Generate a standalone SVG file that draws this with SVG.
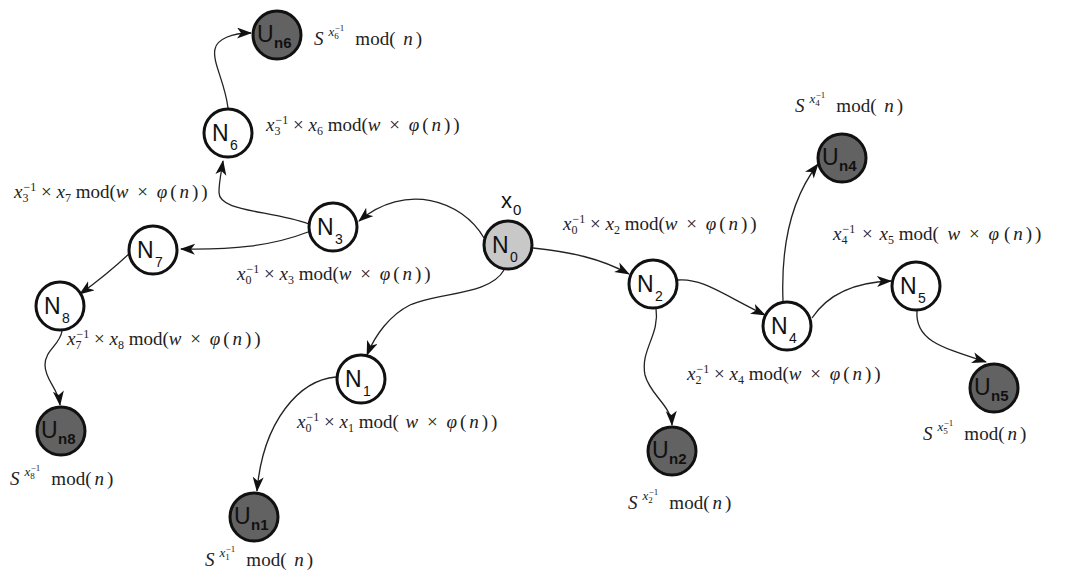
<svg xmlns="http://www.w3.org/2000/svg" width="1070" height="577" viewBox="0 0 1070 577">
<style>
.bg{fill:#fff}
.n circle{stroke:#111;stroke-width:3;fill:#fff}
.n.u circle{fill:#626262}
.n.root circle{fill:#c8c8c8}
.nl{font-family:"Liberation Sans",Arial,sans-serif;fill:#111}
.big{font-size:23px}
.sm{font-size:14px}
.usub{font-size:15px;font-weight:bold}
.m{font-family:"Liberation Serif","Times New Roman",serif;font-size:19px;fill:#222}
.i{font-style:italic}
.s{font-size:12px}
.sx{font-size:13px}
.ss{font-size:9px}
.c path{fill:none;stroke:#222;stroke-width:1.3;marker-end:url(#ah)}
</style>
<defs>
<marker id="ah" markerUnits="userSpaceOnUse" markerWidth="16" markerHeight="12" refX="14" refY="5.5" orient="auto">
<path d="M0,0 L15,5.5 L0,11 L4,5.5 z" fill="#111"/>
</marker>
</defs>
<rect class="bg" x="0" y="0" width="1070" height="577"/>

<g id="connectors" class="c">
<path d="M484,238 C462,200 405,182 359,221"/>
<path d="M308,232 C272,246 232,250 181,249"/>
<path d="M309,224 C270,210 218,212 219,192 C219,182 221,174 223,161"/>
<path d="M228,108 C225,82 212,62 215,49 C217,39 232,33 251,33"/>
<path d="M131,252 C112,270 98,281 80,294"/>
<path d="M62,331 C60,345 45,350 45,365 C45,380 58,388 60,405"/>
<path d="M504,270 C490,295 440,292 410,305 C390,315 375,335 367,355"/>
<path d="M336,377 C300,380 263,420 257,491"/>
<path d="M533,248 C570,252 600,258 629,274"/>
<path d="M678,280 C702,278 722,294 765,315"/>
<path d="M783,301 C781,250 790,200 818,164"/>
<path d="M812,318 C830,291 860,282 891,281"/>
<path d="M917,311 C915,340 940,347 986,362"/>
<path d="M656,308 C660,335 640,350 645,375 C650,395 671,405 672,425"/>
</g>

<g id="U_n6" class="n u"><circle cx="277" cy="35" r="24"/><text class="nl big" x="257" y="42">U</text><text class="nl usub" x="274" y="48">n6</text></g>
<g id="N6" class="n"><circle cx="228" cy="133" r="24"/><text class="nl big" x="212" y="141">N</text><text class="nl sm" x="230" y="150">6</text></g>
<g id="N3" class="n"><circle cx="333" cy="227" r="24"/><text class="nl big" x="317" y="235">N</text><text class="nl sm" x="335" y="244">3</text></g>
<g id="N7" class="n"><circle cx="153" cy="250" r="24"/><text class="nl big" x="137" y="258">N</text><text class="nl sm" x="155" y="267">7</text></g>
<g id="N8" class="n"><circle cx="60" cy="306" r="24"/><text class="nl big" x="44" y="314">N</text><text class="nl sm" x="62" y="323">8</text></g>
<g id="U_n8" class="n u"><circle cx="61" cy="431" r="24"/><text class="nl big" x="41" y="438">U</text><text class="nl usub" x="58" y="444">n8</text></g>
<g id="N0" class="n root"><circle cx="508" cy="245" r="24"/><text class="nl big" x="492" y="253">N</text><text class="nl sm" x="510" y="262">0</text></g>
<g id="x0label"><text class="nl" x="501" y="208" font-size="22">x</text><text class="nl" x="513" y="215" font-size="15">0</text></g>
<g id="N1" class="n"><circle cx="361" cy="379" r="24"/><text class="nl big" x="345" y="387">N</text><text class="nl sm" x="363" y="396">1</text></g>
<g id="U_n1" class="n u"><circle cx="254" cy="517" r="24"/><text class="nl big" x="234" y="524">U</text><text class="nl usub" x="251" y="530">n1</text></g>
<g id="N2" class="n"><circle cx="653" cy="284" r="24"/><text class="nl big" x="637" y="292">N</text><text class="nl sm" x="655" y="301">2</text></g>
<g id="U_n2" class="n u"><circle cx="672" cy="451" r="24"/><text class="nl big" x="652" y="458">U</text><text class="nl usub" x="669" y="464">n2</text></g>
<g id="N4" class="n"><circle cx="787" cy="326" r="24"/><text class="nl big" x="771" y="334">N</text><text class="nl sm" x="789" y="343">4</text></g>
<g id="U_n4" class="n u"><circle cx="842" cy="158" r="24"/><text class="nl big" x="822" y="165">U</text><text class="nl usub" x="839" y="171">n4</text></g>
<g id="N5" class="n"><circle cx="916" cy="286" r="24"/><text class="nl big" x="900" y="294">N</text><text class="nl sm" x="918" y="303">5</text></g>
<g id="U_n5" class="n u"><circle cx="994" cy="388" r="24"/><text class="nl big" x="974" y="395">U</text><text class="nl usub" x="991" y="401">n5</text></g>

<g id="labels">
<text class="m" x="314" y="45"><tspan class="i">S</tspan><tspan class="sx i" dx="5" dy="-9">x</tspan><tspan class="ss" dy="3">6</tspan><tspan class="ss" dx="-4" dy="-8">−1</tspan><tspan dx="11" dy="14">mod( </tspan><tspan class="i" dx="3">n</tspan><tspan dx="3">)</tspan></text>
<text class="m" x="266" y="131"><tspan class="i">x</tspan><tspan class="s" dy="4">3</tspan><tspan class="s" dx="-5" dy="-11">−1</tspan><tspan dy="7"> × </tspan><tspan class="i">x</tspan><tspan class="s" dy="4">6</tspan><tspan dy="-4"> mod(</tspan><tspan class="i">w</tspan><tspan dx="4"> × </tspan><tspan class="i" dx="4">φ</tspan><tspan dx="3">(</tspan><tspan class="i" dx="3">n</tspan><tspan dx="3">)</tspan><tspan dx="3">)</tspan></text>
<text class="m" x="14" y="198"><tspan class="i">x</tspan><tspan class="s" dy="4">3</tspan><tspan class="s" dx="-5" dy="-11">−1</tspan><tspan dy="7"> × </tspan><tspan class="i">x</tspan><tspan class="s" dy="4">7</tspan><tspan dy="-4"> mod(</tspan><tspan class="i">w</tspan><tspan dx="4"> × </tspan><tspan class="i" dx="4">φ</tspan><tspan dx="3">(</tspan><tspan class="i" dx="3">n</tspan><tspan dx="3">)</tspan><tspan dx="3">)</tspan></text>
<text class="m" x="237" y="280"><tspan class="i">x</tspan><tspan class="s" dy="4">0</tspan><tspan class="s" dx="-5" dy="-11">−1</tspan><tspan dy="7"> × </tspan><tspan class="i">x</tspan><tspan class="s" dy="4">3</tspan><tspan dy="-4"> mod(</tspan><tspan class="i">w</tspan><tspan dx="4"> × </tspan><tspan class="i" dx="4">φ</tspan><tspan dx="3">(</tspan><tspan class="i" dx="3">n</tspan><tspan dx="3">)</tspan><tspan dx="3">)</tspan></text>
<text class="m" x="67" y="345"><tspan class="i">x</tspan><tspan class="s" dy="4">7</tspan><tspan class="s" dx="-5" dy="-11">−1</tspan><tspan dy="7"> × </tspan><tspan class="i">x</tspan><tspan class="s" dy="4">8</tspan><tspan dy="-4"> mod(</tspan><tspan class="i">w</tspan><tspan dx="4"> × </tspan><tspan class="i" dx="4">φ</tspan><tspan dx="3">(</tspan><tspan class="i" dx="3">n</tspan><tspan dx="3">)</tspan><tspan dx="3">)</tspan></text>
<text class="m" x="10" y="485"><tspan class="i">S</tspan><tspan class="sx i" dx="5" dy="-9">x</tspan><tspan class="ss" dy="3">8</tspan><tspan class="ss" dx="-4" dy="-8">−1</tspan><tspan dx="11" dy="14">mod(</tspan><tspan class="i" dx="3">n</tspan><tspan dx="3">)</tspan></text>
<text class="m" x="297" y="428"><tspan class="i">x</tspan><tspan class="s" dy="4">0</tspan><tspan class="s" dx="-5" dy="-11">−1</tspan><tspan dy="7"> × </tspan><tspan class="i">x</tspan><tspan class="s" dy="4">1</tspan><tspan dy="-4"> mod( </tspan><tspan class="i" dx="2">w</tspan><tspan dx="4"> × </tspan><tspan class="i" dx="4">φ</tspan><tspan dx="3">(</tspan><tspan class="i" dx="3">n</tspan><tspan dx="3">)</tspan><tspan dx="3">)</tspan></text>
<text class="m" x="205" y="566"><tspan class="i">S</tspan><tspan class="sx i" dx="5" dy="-9">x</tspan><tspan class="ss" dy="3">1</tspan><tspan class="ss" dx="-4" dy="-8">−1</tspan><tspan dx="11" dy="14">mod( </tspan><tspan class="i" dx="3">n</tspan><tspan dx="3">)</tspan></text>
<text class="m" x="563" y="230"><tspan class="i">x</tspan><tspan class="s" dy="4">0</tspan><tspan class="s" dx="-5" dy="-11">−1</tspan><tspan dy="7"> × </tspan><tspan class="i">x</tspan><tspan class="s" dy="4">2</tspan><tspan dy="-4"> mod(</tspan><tspan class="i">w</tspan><tspan dx="4"> × </tspan><tspan class="i" dx="4">φ</tspan><tspan dx="3">(</tspan><tspan class="i" dx="3">n</tspan><tspan dx="3">)</tspan><tspan dx="3">)</tspan></text>
<text class="m" x="795" y="112"><tspan class="i">S</tspan><tspan class="sx i" dx="5" dy="-9">x</tspan><tspan class="ss" dy="3">4</tspan><tspan class="ss" dx="-4" dy="-8">−1</tspan><tspan dx="11" dy="14">mod( </tspan><tspan class="i" dx="3">n</tspan><tspan dx="3">)</tspan></text>
<text class="m" x="833" y="240"><tspan class="i">x</tspan><tspan class="s" dy="4">4</tspan><tspan class="s" dx="-5" dy="-11">−1</tspan><tspan dy="7" dx="2"> × </tspan><tspan class="i" dx="2">x</tspan><tspan class="s" dy="4">5</tspan><tspan dy="-4"> mod(  </tspan><tspan class="i" dx="4">w</tspan><tspan dx="4"> × </tspan><tspan class="i" dx="4">φ</tspan><tspan dx="5">(</tspan><tspan class="i" dx="3">n</tspan><tspan dx="3">)</tspan><tspan dx="3">)</tspan></text>
<text class="m" x="687" y="380"><tspan class="i">x</tspan><tspan class="s" dy="4">2</tspan><tspan class="s" dx="-5" dy="-11">−1</tspan><tspan dy="7"> × </tspan><tspan class="i">x</tspan><tspan class="s" dy="4">4</tspan><tspan dy="-4"> mod(</tspan><tspan class="i">w</tspan><tspan dx="4"> × </tspan><tspan class="i" dx="4">φ</tspan><tspan dx="3">(</tspan><tspan class="i" dx="3">n</tspan><tspan dx="3">)</tspan><tspan dx="3">)</tspan></text>
<text class="m" x="923" y="440"><tspan class="i">S</tspan><tspan class="sx i" dx="5" dy="-9">x</tspan><tspan class="ss" dy="3">5</tspan><tspan class="ss" dx="-4" dy="-8">−1</tspan><tspan dx="11" dy="14">mod(</tspan><tspan class="i" dx="3">n</tspan><tspan dx="3">)</tspan></text>
<text class="m" x="628" y="509"><tspan class="i">S</tspan><tspan class="sx i" dx="5" dy="-9">x</tspan><tspan class="ss" dy="3">2</tspan><tspan class="ss" dx="-4" dy="-8">−1</tspan><tspan dx="11" dy="14">mod(</tspan><tspan class="i" dx="3">n</tspan><tspan dx="3">)</tspan></text>
</g>
</svg>
